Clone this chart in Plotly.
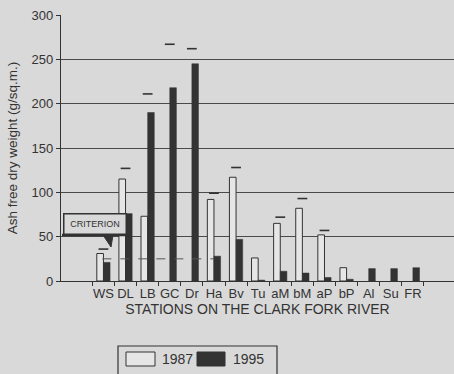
import plotly.graph_objects as go

stations = ["WS", "DL", "LB", "GC", "Dr", "Ha", "Bv", "Tu", "aM", "bM", "aP", "bP", "Al", "Su", "FR"]
afdw_1987 = [31, 115, 73, None, None, 92, 117, 26, 65, 82, 52, 15, None, None, None]
afdw_1995 = [21, 76, 190, 218, 245, 28, 47, 1, 11, 9, 4, 2, 14, 14, 15]
upper_mark = [36, 127, 211, 267, 262, 99, 128, None, 72, 93, 57, None, None, None, None]
y_ticks = [0, 50, 100, 150, 200, 250, 300]
criterion_value = 25

BG = "#d9d9d9"
DARK = "#333333"
FONT = "Liberation Sans, Arial, sans-serif"

W, H = 454, 374
L, R, T, B = 61, 0, 15, 93
PW, PH = W - L - R, H - T - B


def px(x):
    return (x - L) / PW


def py(y):
    return (H - B - y) / PH


fig = go.Figure()
fig.add_trace(go.Bar(x=stations, y=afdw_1987, name="1987",
                     marker=dict(color="#e6e6e6", line=dict(color=DARK, width=1))))
fig.add_trace(go.Bar(x=stations, y=afdw_1995, name="1995",
                     marker=dict(color=DARK, line=dict(color=DARK, width=0.5))))
fig.add_trace(go.Scatter(x=stations, y=upper_mark, mode="markers", showlegend=False,
                         marker=dict(symbol="line-ew", size=7,
                                     line=dict(color=DARK, width=1.6))))

shapes = [
    dict(type="line", xref="x", yref="y", x0=-0.05, x1=5.0,
         y0=criterion_value, y1=criterion_value,
         line=dict(color="#555555", width=1, dash="dash")),
    # criterion box shadow
    dict(type="line", xref="paper", yref="paper", x0=px(62), x1=px(127),
         y0=py(235), y1=py(235), line=dict(color=DARK, width=2.5)),
    # criterion pointer
    dict(type="path", xref="paper", yref="paper",
         path=f"M {px(103)},{py(235)} L {px(113)},{py(235)} L {px(111)},{py(247)} Z",
         fillcolor=DARK, line=dict(color=DARK, width=1)),
    # legend frame
    dict(type="rect", xref="paper", yref="paper", x0=px(118), x1=px(277),
         y0=py(378), y1=py(346), line=dict(color=DARK, width=1.2)),
    dict(type="rect", xref="paper", yref="paper", x0=px(126), x1=px(155),
         y0=py(366), y1=py(352), fillcolor="#e6e6e6", line=dict(color=DARK, width=1)),
    dict(type="rect", xref="paper", yref="paper", x0=px(197), x1=px(225),
         y0=py(366), y1=py(352), fillcolor=DARK, line=dict(color=DARK, width=1)),
]

annotations = [
    dict(xref="paper", yref="paper", x=px(94.5), y=py(224), text="CRITERION",
         xanchor="center", yanchor="middle",
         showarrow=False, font=dict(family=FONT, size=9, color=DARK),
         bgcolor=BG, bordercolor=DARK, borderwidth=1.5, borderpad=1,
         width=59, height=17),
    dict(xref="paper", yref="paper", x=px(160), y=py(359), text="1987",
         xanchor="left", yanchor="middle", showarrow=False,
         font=dict(family=FONT, size=14, color=DARK)),
    dict(xref="paper", yref="paper", x=px(231), y=py(359), text="1995",
         xanchor="left", yanchor="middle", showarrow=False,
         font=dict(family=FONT, size=14, color=DARK)),
]

fig.update_layout(
    width=W, height=H,
    margin=dict(l=L, r=R, t=T, b=B, autoexpand=False),
    paper_bgcolor=BG, plot_bgcolor=BG,
    barmode="group", bargap=0.4, bargroupgap=0,
    showlegend=False,
    font=dict(family=FONT, color=DARK, size=13),
    shapes=shapes, annotations=annotations,
    xaxis=dict(type="category", range=[-1.92, 15.86], tickangle=0,
               tickson="boundaries", ticks="outside", ticklen=4, tickcolor=DARK,
               showline=True, linecolor=DARK, linewidth=1.2, showgrid=False,
               tickfont=dict(size=13),
               title=dict(text="STATIONS ON THE CLARK FORK RIVER",
                          font=dict(size=14), standoff=3)),
    yaxis=dict(range=[0, 300], tickvals=y_ticks, ticks="outside", ticklen=4,
               tickcolor=DARK, showline=True, linecolor=DARK, linewidth=1.2,
               showgrid=True, gridcolor="#4a4a4a", gridwidth=1, zeroline=False,
               tickfont=dict(size=13),
               title=dict(text="Ash free dry weight (g/sq.m.)",
                          font=dict(size=13.5), standoff=10)),
)

fig.write_html("out.html",
               config={"displayModeBar": False},
               post_script="document.body.style.margin='0';"
                           "document.body.style.background='#d9d9d9';")
